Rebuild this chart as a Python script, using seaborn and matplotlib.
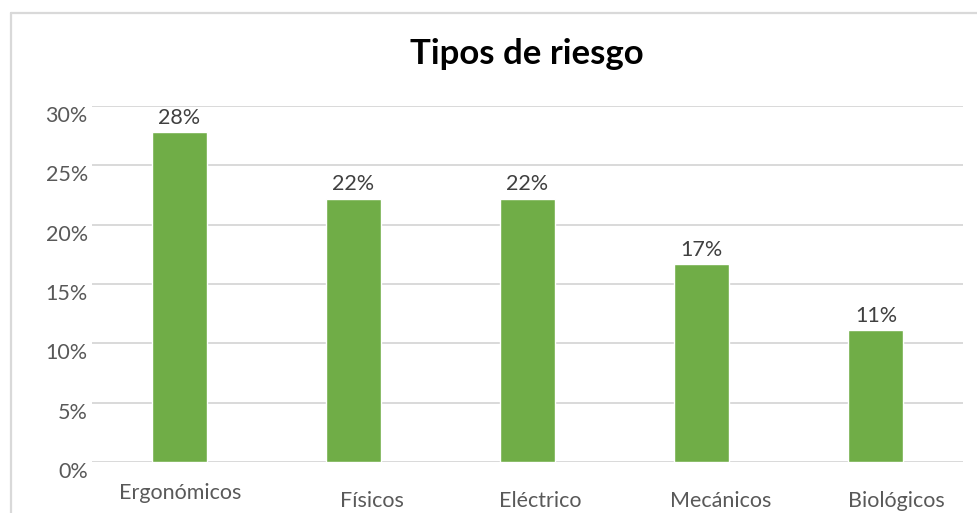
import matplotlib
matplotlib.use("Agg")
import matplotlib.pyplot as plt
import matplotlib.transforms as mtransforms
from matplotlib.lines import Line2D
import seaborn as sns

# datos
categorias = ["Ergonómicos", "Físicos", "Eléctrico", "Mecánicos", "Biológicos"]
valores = [0.278, 0.222, 0.222, 0.167, 0.111]
etiquetas = ["28%", "22%", "22%", "17%", "11%"]
yticks = [0, 0.05, 0.10, 0.15, 0.20, 0.25, 0.30]
yticklabels = ["0%", "5%", "10%", "15%", "20%", "25%", "30%"]

sns.set_theme(style="white")
plt.rcParams["font.family"] = ["Lato", "DejaVu Sans"]

fig = plt.figure(figsize=(9.78, 5.13), dpi=100)
ax = fig.add_axes([92 / 978, 51 / 513, (963 - 92) / 978, (462 - 106) / 513])

sns.barplot(x=categorias, y=valores, color="#70AD47", saturation=1,
            width=0.316, ax=ax)

ax.set_ylim(0, 0.30)
ax.set_xlim(-0.5, 4.5)
ax.set_yticks(yticks)
ax.set_yticklabels(yticklabels)
ax.set_xlabel("")
ax.set_ylabel("")
ax.yaxis.grid(True, color="#D9D9D9", linewidth=1.4)
ax.set_axisbelow(True)
for s in ax.spines.values():
    s.set_visible(False)
ax.tick_params(axis="both", length=0, labelsize=15.5, colors="#595959")
ax.tick_params(axis="y", pad=3)
ax.tick_params(axis="x", pad=21)

# etiquetas del eje y un poco debajo de la linea
for lab in ax.get_yticklabels():
    lab.set_transform(lab.get_transform() + mtransforms.ScaledTranslation(0, -0.08, fig.dpi_scale_trans))

# desplazamiento de las etiquetas del eje x como en el original
desp = [(0.01, 0.08), (0.19, 0.0), (0.13, 0.0), (0.19, 0.0), (0.20, 0.0)]
for lab, (dx, dy) in zip(ax.get_xticklabels(), desp):
    lab.set_transform(lab.get_transform() + mtransforms.ScaledTranslation(dx, dy, fig.dpi_scale_trans))

ax.bar_label(ax.containers[0], labels=etiquetas, padding=3, fontsize=15.5, color="#404040")

fig.text(527 / 978, (513 - 54) / 513, "Tipos de riesgo", ha="center", va="center",
         fontsize=25, fontweight="bold", color="black")

# borde del area del grafico
fig.add_artist(Line2D([11 / 978, 11 / 978], [0, (513 - 13) / 513], transform=fig.transFigure,
                      color="#D9D9D9", linewidth=1.6))
fig.add_artist(Line2D([11 / 978, 1], [(513 - 13) / 513, (513 - 13) / 513], transform=fig.transFigure,
                      color="#D9D9D9", linewidth=1.6))

fig.savefig("out.png", dpi=100)
